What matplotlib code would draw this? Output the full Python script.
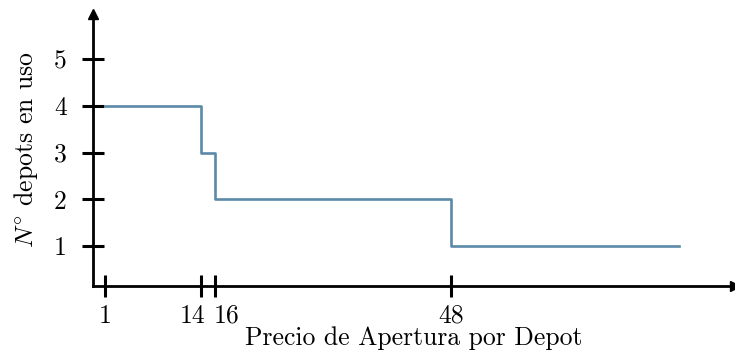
import matplotlib
matplotlib.use('Agg')
import matplotlib.pyplot as plt
from matplotlib.transforms import ScaledTranslation

# step data: price breakpoints and number of depots used
precio = [1, 14, 16, 48, 79]
depots = [4, 3, 2, 1, 1]
x_ticks = [1, 14, 16, 48]
y_ticks = [1, 2, 3, 4, 5]

plt.rcParams['font.family'] = 'serif'
plt.rcParams['font.serif'] = ['cmr10']
plt.rcParams['mathtext.fontset'] = 'cm'
plt.rcParams['axes.formatter.use_mathtext'] = True

fig = plt.figure(figsize=(7.35, 3.54), dpi=100)
ax = fig.add_axes([93/735, 68/354, 642/735, 272/354])

ax.step(precio, depots, where='post', color='#5b8aa8', linewidth=1.9)

ax.set_xlim(-0.63, 86.6)
ax.set_ylim(0.137, 5.974)

for side in ['top', 'right']:
    ax.spines[side].set_visible(False)
for side in ['left', 'bottom']:
    ax.spines[side].set_linewidth(2.0)

# arrow heads at the axis ends
ax.plot(1, 0, '>k', markersize=7, transform=ax.transAxes, clip_on=False)
ax.plot(0, 1, '^k', markersize=7, transform=ax.transAxes, clip_on=False)

ax.set_xticks(x_ticks)
ax.set_xticklabels([str(t) for t in x_ticks])
ax.set_yticks(y_ticks)
ax.set_yticklabels([str(t) for t in y_ticks])
ax.tick_params(direction='inout', length=16, width=2.2, labelsize=18.5)
ax.tick_params(axis='x', pad=5)
ax.tick_params(axis='y', pad=11)

# push the close labels 14 and 16 apart
shifts = {'14': -8.3, '16': 11.4}
for lab in ax.get_xticklabels():
    dx = shifts.get(lab.get_text(), 0)
    if dx:
        lab.set_transform(lab.get_transform() + ScaledTranslation(dx / 100, 0, fig.dpi_scale_trans))

ax.set_xlabel('Precio de Apertura por Depot', fontsize=18.5, labelpad=-1)
ax.set_ylabel(r'$N^{\circ}$ depots en uso', fontsize=18.5, labelpad=10)

fig.savefig('out.png', dpi=100)
